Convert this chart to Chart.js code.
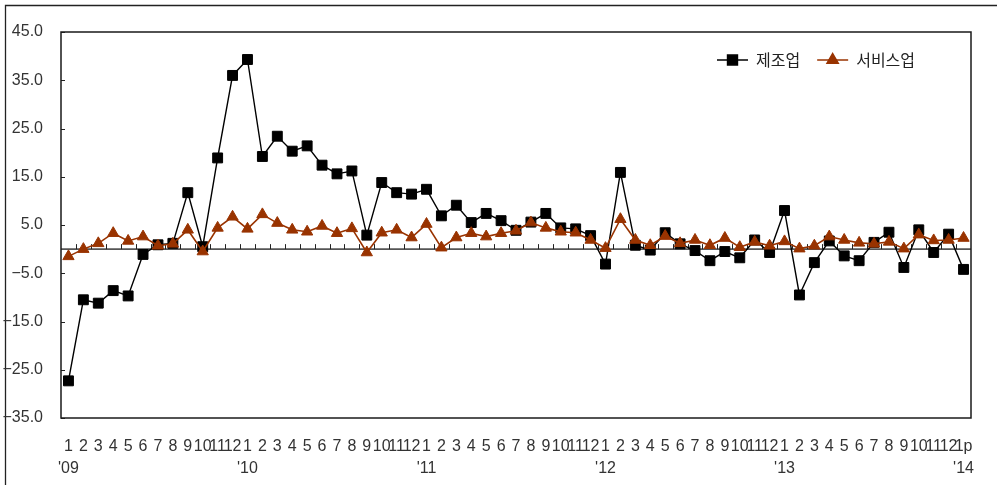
<!DOCTYPE html>
<html><head><meta charset="utf-8">
<script src="https://cdn.jsdelivr.net/npm/chart.js@4.4.0/dist/chart.umd.min.js"></script>
<style>html,body{margin:0;padding:0;background:#fff;}#wrap{position:absolute;left:0;top:0;width:997px;height:485px;}</style>
</head><body><div id="wrap"><canvas id="c" width="997" height="485"></canvas></div>
<script>
const months = ['1','2','3','4','5','6','7','8','9','10','11','12',
 '1','2','3','4','5','6','7','8','9','10','11','12',
 '1','2','3','4','5','6','7','8','9','10','11','12',
 '1','2','3','4','5','6','7','8','9','10','11','12',
 '1','2','3','4','5','6','7','8','9','10','11','12','1p'];
const years = ["'09","'10","'11","'12","'13","'14"];
const seriesNames = ['제조업','서비스업'];
const manufacturing = [-27.3,-10.5,-11.2,-8.6,-9.7,-1.1,0.9,1.2,11.7,0.5,
 18.9,36.0,39.3,19.2,23.4,20.3,21.4,17.4,15.6,16.2,
 2.9,13.8,11.7,11.4,12.4,6.9,9.1,5.5,7.4,5.9,
 3.9,5.6,7.4,4.4,4.2,2.8,-3.1,15.9,0.8,-0.2,
 3.4,1.1,-0.3,-2.4,-0.5,-1.8,1.9,-0.7,8.0,-9.5,
 -2.8,1.7,-1.4,-2.4,1.4,3.5,-3.8,4.0,-0.7,3.1,-4.2];
const services = [-1.5,0.0,1.2,3.3,1.7,2.6,0.7,1.1,4.0,-0.5,
 4.4,6.7,4.2,7.2,5.4,4.0,3.6,4.8,3.3,4.3,
 -0.7,3.4,4.0,2.4,5.2,0.3,2.4,3.3,2.6,3.3,
 3.8,5.5,4.4,3.6,3.4,1.9,0.2,6.2,1.9,0.8,
 2.7,1.2,1.9,0.8,2.3,0.4,1.5,0.7,1.6,0.1,
 0.7,2.6,1.9,1.3,1.1,1.5,0.1,3.0,1.8,1.9,2.3];
const yTicks = [-35,-25,-15,-5,5,15,25,35,45];

const labels = months.map((m,i)=> i%12===0 ? [m, years[i/12]] : [m, '']);
const NARROW = "'Liberation Sans Narrow','Arial Narrow','Liberation Sans',sans-serif";
const MFG_COLOR = '#000000';
const SVC_COLOR = '#993300';

const decor = {
  id:'decor',
  beforeDraw(chart){
    const ctx = chart.ctx;
    ctx.save();
    ctx.strokeStyle = '#222'; ctx.lineWidth = 1.3;
    ctx.beginPath();
    ctx.moveTo(5.5, 485); ctx.lineTo(5.5, 5.5); ctx.lineTo(997, 5.5);
    ctx.stroke();
    ctx.restore();
  },
  beforeDatasetsDraw(chart){
    const ctx = chart.ctx, a = chart.chartArea, xs = chart.scales.x, ys = chart.scales.y;
    const y0 = ys.getPixelForValue(0);
    ctx.save();
    ctx.strokeStyle = '#555'; ctx.lineWidth = 1.6;
    ctx.beginPath(); ctx.moveTo(a.left, y0); ctx.lineTo(a.right, y0); ctx.stroke();
    ctx.strokeStyle = '#222'; ctx.lineWidth = 1;
    ctx.beginPath();
    for (let i = 1; i < labels.length; i++) {
      const x = Math.round((xs.getPixelForValue(i-1) + xs.getPixelForValue(i)) / 2) + 0.5;
      ctx.moveTo(x, y0); ctx.lineTo(x, y0 - 5);
    }
    ys.ticks.forEach(t => {
      const y = Math.round(ys.getPixelForValue(t.value)) + 0.5;
      ctx.moveTo(a.left, y); ctx.lineTo(a.left + 4, y);
    });
    ctx.stroke();
    ctx.restore();
  },
  afterDatasetsDraw(chart){
    const ctx = chart.ctx, a = chart.chartArea;
    ctx.save();
    ctx.strokeStyle = '#1a1a1a'; ctx.lineWidth = 1.5;
    ctx.strokeRect(a.left, a.top, a.right - a.left, a.bottom - a.top);
    // legend
    ctx.font = "16px 'Noto Sans CJK KR', sans-serif";
    ctx.textBaseline = 'middle';
    let x = 717; const y = 60;
    chart.data.datasets.forEach(ds => {
      ctx.strokeStyle = ds.borderColor; ctx.lineWidth = 1.5;
      ctx.beginPath(); ctx.moveTo(x, y); ctx.lineTo(x + 31, y); ctx.stroke();
      ctx.fillStyle = ds.pointBackgroundColor; ctx.strokeStyle = ds.pointBorderColor;
      Chart.helpers.drawPoint(ctx, {pointStyle: ds.pointStyle, radius: ds.pointRadius, rotation: 0, borderWidth: ds.pointBorderWidth}, x + 15.5, y);
      ctx.fillStyle = '#222';
      ctx.fillText(ds.label, x + 39, y);
      x += 39 + ctx.measureText(ds.label).width + 17;
    });
    ctx.restore();
  }
};

new Chart(document.getElementById('c'), {
  type: 'line',
  data: {
    labels,
    datasets: [
      {label: seriesNames[0], data: manufacturing, borderColor: MFG_COLOR, borderWidth: 1.4,
       pointStyle: 'rect', pointRadius: 7, pointBorderWidth: 1, pointBackgroundColor: MFG_COLOR, pointBorderColor: MFG_COLOR,
       tension: 0, order: 2},
      {label: seriesNames[1], data: services, borderColor: SVC_COLOR, borderWidth: 1.6,
       pointStyle: 'triangle', pointRadius: 6.5, pointBorderWidth: 1, pointBackgroundColor: SVC_COLOR, pointBorderColor: SVC_COLOR,
       tension: 0, order: 1}
    ]
  },
  options: {
    responsive: false, animation: false, devicePixelRatio: 1,
    layout: {padding: {top: 32, right: 26, left: 0, bottom: 0}},
    plugins: {legend: {display: false}, tooltip: {enabled: false}},
    scales: {
      x: {
        type: 'category', offset: true,
        grid: {display: false, drawTicks: false}, border: {display: false},
        ticks: {autoSkip: false, maxRotation: 0, minRotation: 0, padding: 18, color: '#333',
          font: {family: NARROW, size: 16, lineHeight: 1.375}},
        afterFit(s){ s.height = 67; }
      },
      y: {
        min: -35, max: 45,
        afterBuildTicks(s){ s.ticks = yTicks.map(v => ({value: v})); },
        grid: {display: false, drawTicks: false}, border: {display: false},
        ticks: {padding: 18, color: '#333', font: {family: NARROW, size: 16},
          callback: v => (v < 0 ? '\u2212' : '') + Math.abs(v).toFixed(1)},
        afterFit(s){ s.width = 61; }
      }
    }
  },
  plugins: [decor]
});
</script></body></html>
